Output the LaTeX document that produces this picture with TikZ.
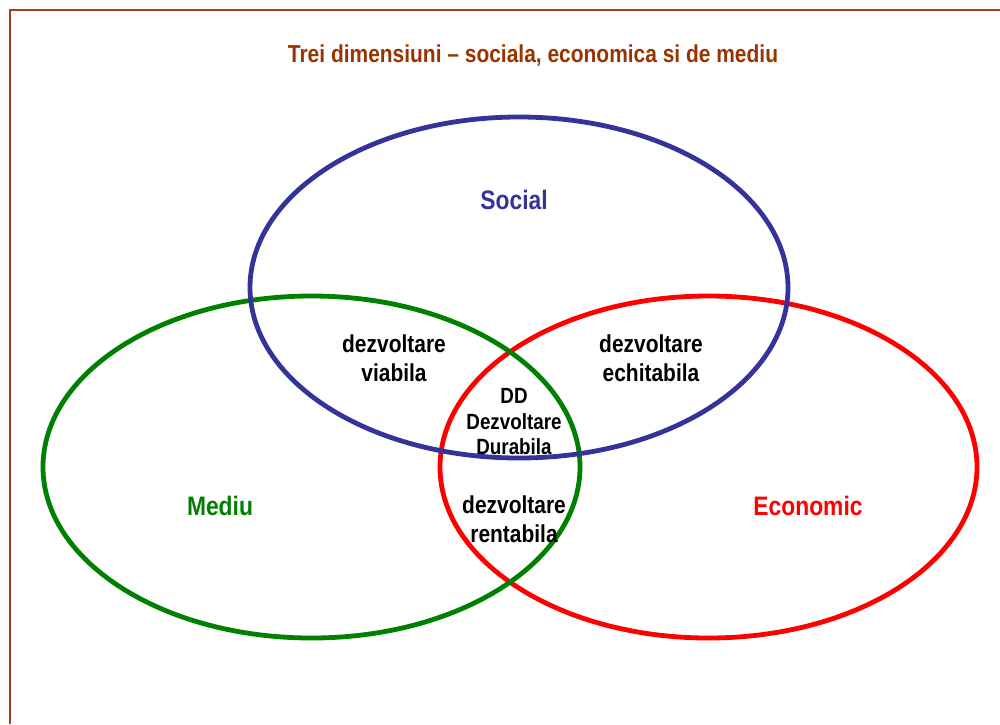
\documentclass[tikz,border=0pt]{standalone}
\usepackage{fontspec}
\setmainfont{Liberation Sans}
\newfontfamily\narrowbold[FakeStretch=0.855]{Liberation Sans Bold}
\definecolor{titlebrown}{RGB}{153,51,0}
\definecolor{framebrown}{RGB}{165,60,20}
\definecolor{socialblue}{RGB}{51,51,153}
\definecolor{mediugreen}{RGB}{0,128,0}
\definecolor{econred}{RGB}{255,0,0}
\tikzset{
  ring/.style={line width=4.8pt},
  lbl/.style={font=\narrowbold\fontsize{24.5}{29}\selectfont, align=center, inner sep=0pt},
  ddlbl/.style={font=\narrowbold\fontsize{22}{25.5}\selectfont, align=center, inner sep=0pt},
  bigl/.style={font=\narrowbold\fontsize{26.7}{30}\selectfont, inner sep=0pt}
}
\begin{document}
\begin{tikzpicture}[x=1pt,y=-1pt]
\useasboundingbox (0,0) rectangle (1000,724);
\coordinate (fbl) at (9.5,724);
\coordinate (ftl) at (9.5,9.5);
\coordinate (ftr) at (1000,9.5);
\draw[framebrown, line width=2pt] (fbl) -- (ftl) -- (ftr);
\node[font=\narrowbold\fontsize{24.5}{28}\selectfont, text=titlebrown, inner sep=0pt] (title) at (533,56) {Trei dimensiuni – sociala, economica si de mediu};
\draw[ring, econred] (708.5,467) ellipse [x radius=268.5, y radius=171];
\draw[ring, mediugreen] (311.5,467) ellipse [x radius=268.5, y radius=171];
\draw[ring, socialblue] (519,287.5) ellipse [x radius=269, y radius=170.5];
\node[bigl, text=socialblue] (social) at (514,200) {Social};
\node[bigl, text=mediugreen] (mediu) at (220,506) {Mediu};
\node[bigl, text=econred] (economic) at (808,506) {Economic};
\node[lbl] (viabila) at (394,358) {dezvoltare\\viabila};
\node[lbl] (echitabila) at (651,358) {dezvoltare\\echitabila};
\node[ddlbl] (dd) at (514,422) {DD\\Dezvoltare\\Durabila};
\node[lbl] (rentabila) at (514,519) {dezvoltare\\rentabila};
\end{tikzpicture}
\end{document}
